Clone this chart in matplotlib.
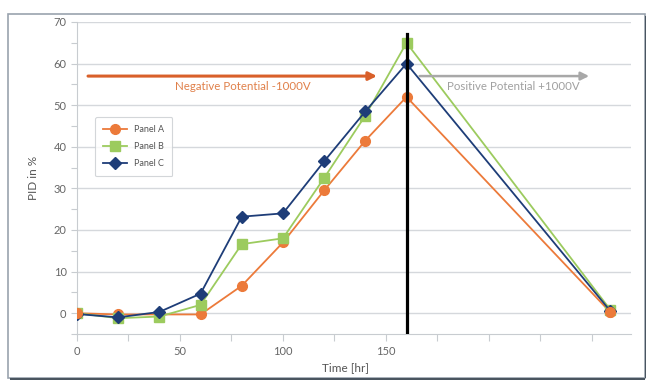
import matplotlib
matplotlib.use("Agg")
import matplotlib.pyplot as plt
from matplotlib.patches import Rectangle

plt.rcParams['font.family'] = ['Lato', 'DejaVu Sans']

time_a = [0, 20, 40, 60, 80, 100, 120, 140, 160, 259]
panel_a = [0, -0.3, -0.3, -0.3, 6.6, 17.0, 29.5, 41.5, 52.0, 0.2]
time_b = [0, 20, 40, 60, 80, 100, 120, 140, 160, 259]
panel_b = [0, -1.2, -0.8, 2.0, 16.6, 18.0, 32.5, 47.5, 65.0, 0.8]
time_c = [0, 20, 40, 60, 80, 100, 120, 140, 160, 259]
panel_c = [-0.2, -1.0, 0.3, 4.7, 23.2, 24.0, 36.5, 48.5, 60.0, 0.5]

x_ticks = [0, 50, 100, 150]
y_ticks = [0, 10, 20, 30, 40, 50, 60, 70]

c_a = '#EC7A3A'
c_b = '#9CCB5E'
c_c = '#1E3D78'

fig = plt.figure(figsize=(6.71, 3.87), dpi=100)
fig.patch.set_facecolor('white')

# outer frame
fig.patches.append(Rectangle((8/671, 1-378/387), (645-8)/671, (378-14)/387,
                             transform=fig.transFigure, fill=False,
                             edgecolor='#9AA3AE', lw=1.2))
fig.patches.append(Rectangle((645/671, 1-378/387), 0.002, (378-16)/387,
                             transform=fig.transFigure, facecolor='#4a5560',
                             edgecolor='none'))
fig.patches.append(Rectangle((10/671, 1-380/387), (645-10)/671, 0.004,
                             transform=fig.transFigure, facecolor='#4a5560',
                             edgecolor='none'))

ax = fig.add_axes([77/671, 1-334/387, (631-77)/671, (334-22)/387])
ax.set_xlim(0, 269)
ax.set_ylim(-5, 70)

for y in y_ticks:
    ax.axhline(y, color='#D5D8DC', lw=1.0, zorder=0)

for s in ['top', 'right']:
    ax.spines[s].set_visible(False)
for s in ['left', 'bottom']:
    ax.spines[s].set_color('#C8CCD0')
    ax.spines[s].set_linewidth(0.8)

ax.set_xticks(x_ticks)
ax.set_xticks([25, 75, 125, 175, 200, 225, 250], minor=True)
ax.set_yticks(y_ticks)
ax.set_yticks([-5, 5, 15, 25, 35, 45, 55, 65], minor=True)
ax.tick_params(axis='both', which='both', colors='#C8CCD0', labelcolor='#666666',
               labelsize=8, length=4, width=0.8)
ax.tick_params(axis='x', which='both', length=5)

ax.set_xlabel('Time [hr]', fontsize=8.5, color='#555555')
ax.xaxis.set_label_coords(0.485, -0.09)
ax.set_ylabel('PID in %', fontsize=8.5, color='#555555')
ax.yaxis.set_label_coords(-0.068, 0.5)

# vertical black line
ax.plot([160, 160], [-5, 67], color='black', lw=2.3, zorder=4)

ax.plot(time_a, panel_a, color=c_a, marker='o', ms=7, lw=1.3, label='Panel A', zorder=3)
ax.plot(time_b, panel_b, color=c_b, marker='s', ms=6.5, lw=1.3, label='Panel B', zorder=3)
ax.plot(time_c, panel_c, color=c_c, marker='D', ms=6.5, lw=1.3, label='Panel C', zorder=3)
# Panel A markers visible on top at the start and end points
ax.plot([time_a[0], time_a[-1]], [panel_a[0], panel_a[-1]], ls='none',
        color=c_a, marker='o', ms=7, zorder=5)

# arrows
ax.annotate('', xy=(147, 57), xytext=(4, 57),
            arrowprops=dict(arrowstyle='-|>', color='#D9602A', lw=2.2, mutation_scale=12))
ax.annotate('', xy=(250, 57), xytext=(165, 57),
            arrowprops=dict(arrowstyle='-|>', color='#A8A8A8', lw=1.8, mutation_scale=12))
ax.text(80.5, 54.5, 'Negative Potential -1000V', fontsize=8.3, color='#E0804A',
        ha='center', va='center')
ax.text(212, 54.5, 'Positive Potential +1000V', fontsize=8.3, color='#A0A0A0',
        ha='center', va='center')

leg = ax.legend(loc='upper left', bbox_to_anchor=(0.025, 0.71), fontsize=6.5,
                frameon=True, handlelength=2.6, borderpad=0.9, labelspacing=0.9,
                labelcolor='#555555')
leg.get_frame().set_edgecolor('#C8CCD0')
leg.get_frame().set_linewidth(0.8)

fig.savefig('out.png', dpi=100, facecolor='white')
